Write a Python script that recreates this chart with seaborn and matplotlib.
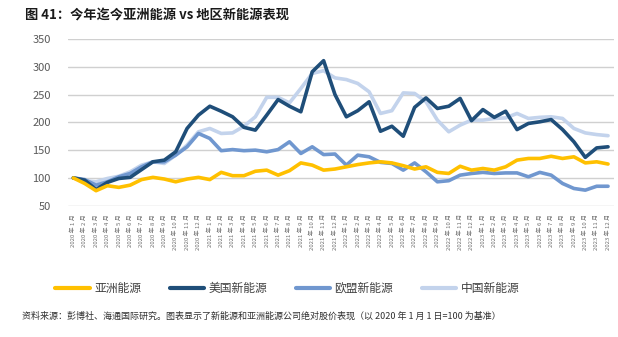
import numpy as np
import pandas as pd
import matplotlib
matplotlib.use("Agg")
import matplotlib.pyplot as plt
import seaborn as sns
from matplotlib.lines import Line2D

# ---- data ----
months = [f"{y} 年 {m} 月" for y in (2020, 2021, 2022, 2023) for m in range(1, 13)]

asia = [100, 90, 77, 86, 83, 87, 97, 101, 98, 93, 98, 101,
        97, 110, 104, 104, 112, 114, 105, 113, 127, 123, 114, 116,
        120, 124, 127, 129, 127, 122, 116, 120, 110, 108, 121, 114,
        117, 114, 120, 132, 135, 135, 139, 135, 138, 127, 129, 125]
us = [100, 96, 79, 92, 99, 101, 115, 129, 132, 147, 189, 213,
      229, 220, 210, 191, 186, 213, 241, 229, 219, 291, 311, 250,
      210, 221, 237, 184, 193, 175, 227, 244, 225, 229, 243, 203,
      223, 209, 220, 187, 198, 201, 205, 187, 165, 137, 154, 156]
europe = [100, 97, 87, 93, 102, 108, 120, 129, 129, 141, 156, 180,
          171, 149, 151, 149, 150, 147, 151, 165, 144, 156, 142, 143,
          123, 141, 138, 128, 126, 114, 127, 111, 93, 95, 105, 108,
          110, 108, 109, 109, 102, 110, 105, 90, 81, 78, 85, 85]
china = [100, 95, 93, 99, 103, 111, 123, 129, 126, 141, 159, 183,
         189, 180, 181, 193, 210, 245, 245, 235, 261, 288, 293, 280,
         277, 270, 255, 216, 221, 253, 252, 237, 204, 183, 195, 204,
         204, 207, 208, 216, 207, 209, 210, 207, 189, 181, 178, 176]

series_names = ["亚洲能源", "美国新能源", "欧盟新能源", "中国新能源"]
yticks = [50, 100, 150, 200, 250, 300, 350]

df = pd.concat([
    pd.DataFrame({"idx": range(len(months)), "value": vals, "series": name})
    for name, vals in zip(series_names, [asia, us, europe, china])
], ignore_index=True)

colors = {"亚洲能源": "#FFC000", "美国新能源": "#1F4E79",
          "欧盟新能源": "#7097CF", "中国新能源": "#C3D3EC"}

sns.set_theme(style="white")
plt.rcParams["font.family"] = ["Noto Sans CJK SC", "DejaVu Sans"]

fig = plt.figure(figsize=(6.18, 3.37), dpi=100)
ax = fig.add_axes([0.1094, 0.3896, 0.8837, 0.4947])

order_draw = ["中国新能源", "欧盟新能源", "美国新能源", "亚洲能源"]
sns.lineplot(data=df, x="idx", y="value", hue="series", hue_order=order_draw,
             palette=colors, linewidth=2.6, ax=ax, legend=False, sort=False)

ax.set_xlim(-0.5, len(months) - 0.5)
ax.set_ylim(50, 350)
ax.set_yticks(yticks)
ax.set_yticklabels([str(t) for t in yticks], fontsize=8, color="#595959")
ax.yaxis.grid(True, color="#D0D0D0", linewidth=1.0)
ax.xaxis.grid(False)
ax.set_xticks(range(len(months)))
ax.set_xticklabels(months, rotation=90, fontsize=4.3, color="#707070")
ax.tick_params(axis="y", length=0, pad=12)
ax.tick_params(axis="x", length=0, pad=6)
for s in ax.spines.values():
    s.set_visible(False)
ax.set_xlabel("")
ax.set_ylabel("")

handles = [Line2D([0], [0], color=colors[n], lw=3) for n in series_names]
fig.legend(handles, series_names, loc="center", bbox_to_anchor=(0.465, 0.145),
           ncol=4, frameon=False, fontsize=8.5, handlelength=2.9, columnspacing=2.4,
           handletextpad=0.4, labelcolor="#404040")

fig.text(0.04, 0.955, "图 41：今年迄今亚洲能源 vs 地区新能源表现", fontsize=9.5,
         fontweight="bold", color="#1a1a1a", va="center", ha="left")
fig.text(0.036, 0.062,
         "资料来源：彭博社、海通国际研究。图表显示了新能源和亚洲能源公司绝对股价表现（以 2020 年 1 月 1 日=100 为基准）",
         fontsize=6.5, color="#303030", va="center", ha="left")

fig.savefig("out.png", dpi=100)
